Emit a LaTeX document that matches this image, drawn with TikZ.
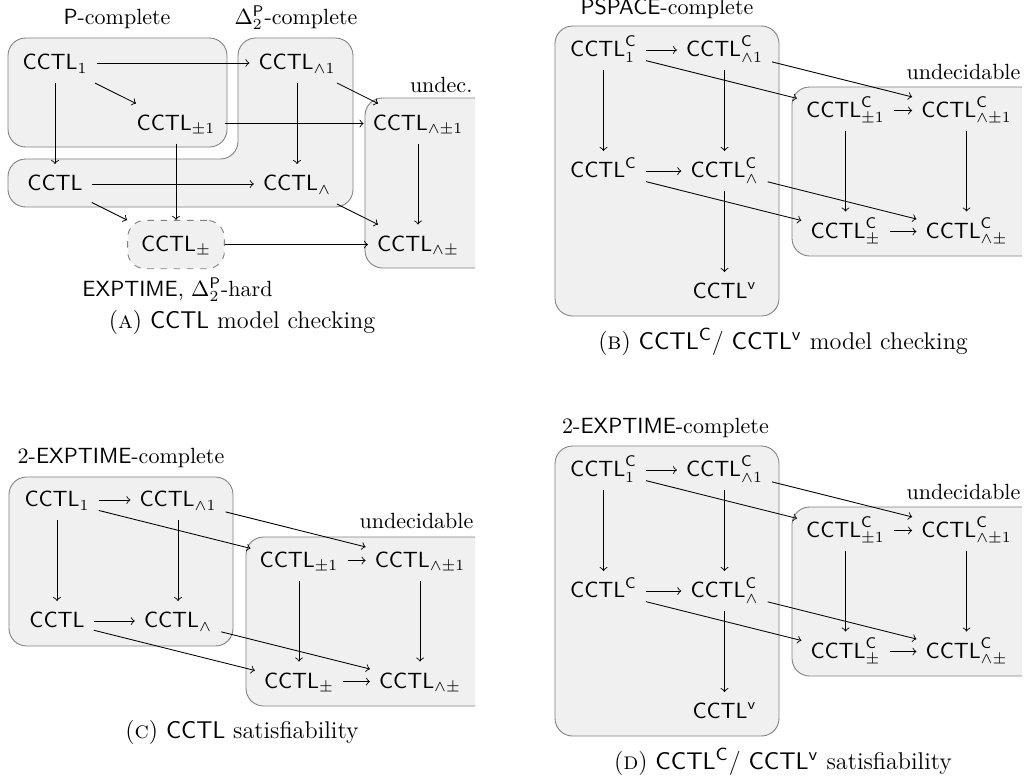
\documentclass[tikz,border=0pt]{standalone}
\usetikzlibrary{positioning}
\newcommand{\CCTL}{\mathsf{CCTL}}
\newcommand{\Cc}{{\mathsf{C}}}
\newcommand{\Dtwo}{\Delta_2^{\mathsf{P}}}
\begin{document}
\begin{tikzpicture}[x=0.4545pt,y=-0.4545pt,
  region/.style={draw=gray,fill=black!6,rounded corners=8pt},
  logic/.style={inner sep=4pt,text height=8pt,text depth=1.8pt},
  hardbox/.style={logic,draw=gray,dashed,fill=black!6,rounded corners=8pt,minimum width=44pt,minimum height=22pt},
  class label/.style={anchor=base,inner sep=1pt},
  subcaption/.style={font=\fontsize{11}{13}\selectfont,inner sep=1pt},
  node distance=27.5pt and 55pt,on grid]
\useasboundingbox (0,0) rectangle (1026,781);

% (a) CCTL model checking
\draw[region] (8,38) rectangle (227,147);
\draw[region] (8,207) -- (8,159) -- (238,159) -- (238,38) -- (353,38) -- (353,207) -- cycle;
\draw[region] (475,98) -- (365,98) -- (365,268) -- (475,268);
\node[class label] (a-pc) at (117,24.5) {\textsf{P}-complete};
\node[class label] (a-dc) at (296,24.5) {$\Dtwo$-complete};
\node[class label,anchor=base east] (a-und) at (475,92) {undec.};
\node[logic] (a1) at (55,63) {$\CCTL_1$};
\node[logic] (aw1) [right=110pt of a1] {$\CCTL_{\wedge1}$};
\node[logic] (ap1) [below right=of a1] {$\CCTL_{\pm1}$};
\node[logic] (awp1) [below right=of aw1] {$\CCTL_{\wedge\pm1}$};
\node[logic] (a0) [below=55pt of a1] {$\CCTL$};
\node[logic] (aw) [below=55pt of aw1] {$\CCTL_{\wedge}$};
\node[hardbox] (ap) [below right=of a0] {$\CCTL_{\pm}$};
\node[logic] (awp) [below right=of aw] {$\CCTL_{\wedge\pm}$};
\node[class label] (a-hard) at (177.5,296) {\textsf{EXPTIME}, $\Dtwo$-hard};
\path[->]
(a1) edge (aw1) edge (ap1) edge (a0)
(aw1) edge (awp1) edge (aw)
(ap1) edge (awp1) edge (ap)
(awp1) edge (awp)
(a0) edge (aw) edge (ap)
(aw) edge (awp)
(ap) edge (awp);
\node[subcaption] (a-cap) at (242,322) {(\textsc{a}) \textsf{CCTL} model checking};

% (b) CCTL^C / CCTL^v model checking
\draw[region] (555,26) rectangle (779,316);
\draw[region] (1022,87) -- (792,87) -- (792,256) -- (1022,256);
\node[class label] (b-pc) at (667,14) {\textsf{PSPACE}-complete};
\node[class label,anchor=base east] (b-und) at (1023,79) {undecidable};
\node[logic] (b1) at (603.5,50) {$\CCTL^\Cc_1$};
\node[logic] (bw1) [right=of b1] {$\CCTL^\Cc_{\wedge1}$};
\node[logic] (bp1) [below right=of bw1] {$\CCTL^\Cc_{\pm1}$};
\node[logic] (bwp1) [right=of bp1] {$\CCTL^\Cc_{\wedge\pm1}$};
\node[logic] (b0) [below=55pt of b1] {$\CCTL^\Cc$};
\node[logic] (bw) [right=of b0] {$\CCTL^\Cc_{\wedge}$};
\node[logic] (bp) [below right=of bw] {$\CCTL^\Cc_{\pm}$};
\node[logic] (bwp) [right=of bp] {$\CCTL^\Cc_{\wedge\pm}$};
\node[logic] (bv) [below=55pt of bw] {$\CCTL^{\mathsf{v}}$};
\path[->]
(b1) edge (bw1) edge (b0) edge (bp1)
(bw1) edge (bw) edge (bwp1)
(bp1) edge (bwp1) edge (bp)
(bwp1) edge (bwp)
(b0) edge (bw) edge (bp)
(bw) edge (bwp) edge (bv)
(bp) edge (bwp);
\node[subcaption] (b-cap) at (783,342) {(\textsc{b}) $\CCTL^\Cc$/ $\CCTL^{\mathsf{v}}$ model checking};

% (c) CCTL satisfiability
\draw[region] (9,477) rectangle (233,646);
\draw[region] (475,537) -- (246,537) -- (246,706) -- (475,706);
\node[class label] (c-ec) at (121,463) {2-\textsf{EXPTIME}-complete};
\node[class label,anchor=base east] (c-und) at (476,528) {undecidable};
\node[logic] (c1) at (57,500) {$\CCTL_1$};
\node[logic] (cw1) [right=of c1] {$\CCTL_{\wedge1}$};
\node[logic] (cp1) [below right=of cw1] {$\CCTL_{\pm1}$};
\node[logic] (cwp1) [right=of cp1] {$\CCTL_{\wedge\pm1}$};
\node[logic] (c0) [below=55pt of c1] {$\CCTL$};
\node[logic] (cw) [right=of c0] {$\CCTL_{\wedge}$};
\node[logic] (cp) [below right=of cw] {$\CCTL_{\pm}$};
\node[logic] (cwp) [right=of cp] {$\CCTL_{\wedge\pm}$};
\path[->]
(c1) edge (cw1) edge (c0) edge (cp1)
(cw1) edge (cw) edge (cwp1)
(cp1) edge (cwp1) edge (cp)
(cwp1) edge (cwp)
(c0) edge (cw) edge (cp)
(cw) edge (cwp)
(cp) edge (cwp);
\node[subcaption] (c-cap) at (242,732) {(\textsc{c}) \textsf{CCTL} satisfiability};

% (d) CCTL^C / CCTL^v satisfiability
\draw[region] (555,446) rectangle (779,736);
\draw[region] (1022,507) -- (792,507) -- (792,676) -- (1022,676);
\node[class label] (d-ec) at (665.5,433) {2-\textsf{EXPTIME}-complete};
\node[class label,anchor=base east] (d-und) at (1023,499) {undecidable};
\node[logic] (d1) at (603.5,470) {$\CCTL^\Cc_1$};
\node[logic] (dw1) [right=of d1] {$\CCTL^\Cc_{\wedge1}$};
\node[logic] (dp1) [below right=of dw1] {$\CCTL^\Cc_{\pm1}$};
\node[logic] (dwp1) [right=of dp1] {$\CCTL^\Cc_{\wedge\pm1}$};
\node[logic] (d0) [below=55pt of d1] {$\CCTL^\Cc$};
\node[logic] (dw) [right=of d0] {$\CCTL^\Cc_{\wedge}$};
\node[logic] (dp) [below right=of dw] {$\CCTL^\Cc_{\pm}$};
\node[logic] (dwp) [right=of dp] {$\CCTL^\Cc_{\wedge\pm}$};
\node[logic] (dv) [below=55pt of dw] {$\CCTL^{\mathsf{v}}$};
\path[->]
(d1) edge (dw1) edge (d0) edge (dp1)
(dw1) edge (dw) edge (dwp1)
(dp1) edge (dwp1) edge (dp)
(dwp1) edge (dwp)
(d0) edge (dw) edge (dp)
(dw) edge (dwp) edge (dv)
(dp) edge (dwp);
\node[subcaption] (d-cap) at (783,762) {(\textsc{d}) $\CCTL^\Cc$/ $\CCTL^{\mathsf{v}}$ satisfiability};
\end{tikzpicture}
\end{document}
